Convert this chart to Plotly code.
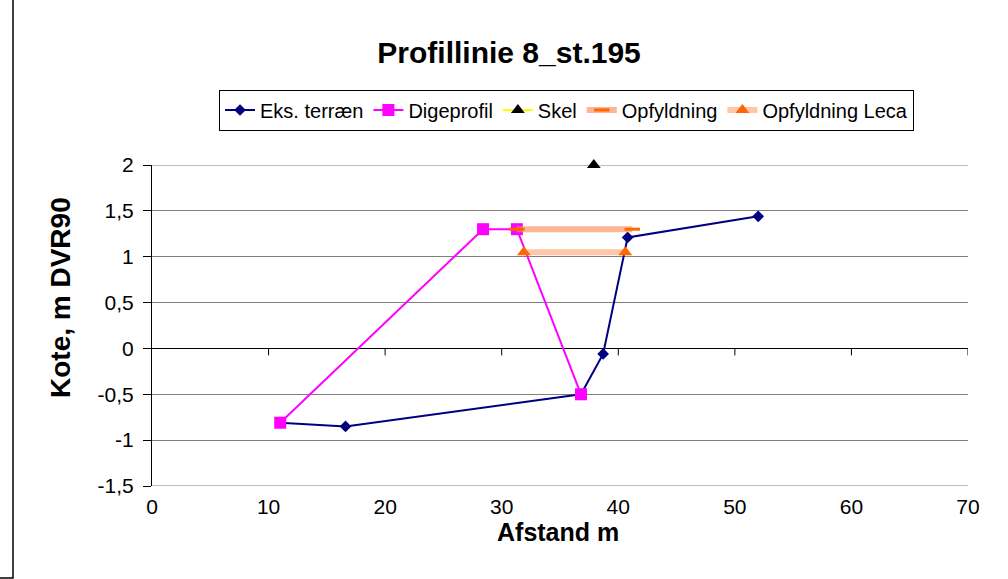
import plotly.graph_objects as go

# Data
terraen_x = [11.0, 16.6, 36.8, 38.7, 40.8, 52.0]
terraen_y = [-0.81, -0.85, -0.5, -0.06, 1.21, 1.44]

dige_x = [11.0, 28.4, 31.3, 36.8]
dige_y = [-0.81, 1.3, 1.3, -0.5]

skel_x = [37.9]
skel_y = [2.0]

opf_x = [31.3, 41.2]
opf_y = [1.3, 1.3]

leca_x = [31.9, 40.6]
leca_y = [1.05, 1.05]

x_ticks = [0, 10, 20, 30, 40, 50, 60, 70]
y_ticks = [-1.5, -1, -0.5, 0, 0.5, 1, 1.5, 2]
y_ticktext = [("%g" % v).replace(".", ",") for v in y_ticks]

FONT = "Liberation Sans, Arial, sans-serif"

fig = go.Figure()

fig.add_trace(go.Scatter(
    x=terraen_x, y=terraen_y, mode="lines+markers", name="Eks. terræn",
    line=dict(color="#000080", width=2),
    marker=dict(symbol="diamond", size=9, color="#000080"),
))
fig.add_trace(go.Scatter(
    x=dige_x, y=dige_y, mode="lines+markers", name="Digeprofil",
    line=dict(color="#FF00FF", width=2),
    marker=dict(symbol="square", size=12, color="#FF00FF"),
))
fig.add_trace(go.Scatter(
    x=skel_x, y=skel_y, mode="lines+markers", name="Skel",
    line=dict(color="#FFFF00", width=2),
    marker=dict(symbol="triangle-up", size=12, color="#000000"),
    cliponaxis=False,
))
fig.add_trace(go.Scatter(
    x=opf_x, y=opf_y, mode="lines+markers", name="Opfyldning",
    line=dict(color="rgba(255,150,100,0.7)", width=6),
    marker=dict(symbol="line-ew", size=11, line=dict(color="#FF6600", width=3), color="#FF6600"),
))
fig.add_trace(go.Scatter(
    x=leca_x, y=leca_y, mode="lines+markers", name="Opfyldning Leca",
    line=dict(color="rgba(255,175,130,0.7)", width=6),
    marker=dict(symbol="triangle-up", size=12, color="#FF6600"),
))

shapes = []
# tick marks on the x-axis crossing at y=0
for t in x_ticks[1:]:
    shapes.append(dict(type="line", xref="x", yref="y", x0=t, x1=t,
                       ysizemode="pixel", yanchor=0, y0=0, y1=-7,
                       line=dict(color="black", width=1)))
# gridlines at the edges of the value range
for v in (y_ticks[0], y_ticks[-1]):
    shapes.append(dict(type="line", xref="paper", yref="y", x0=0, x1=1, y0=v, y1=v,
                       line=dict(color="#808080", width=1), layer="below"))
# edge of neighbouring frame on the left
shapes.append(dict(type="rect", xref="paper", yref="paper",
                   x0=(-20 - 152) / 816, x1=(13 - 152) / 816,
                   y0=(486 - 578) / 321, y1=(486 + 20) / 321,
                   line=dict(color="black", width=1.5), fillcolor="rgba(0,0,0,0)", layer="below"))

fig.update_layout(
    width=1008, height=579,
    margin=dict(l=152, r=40, t=165, b=93),
    paper_bgcolor="white", plot_bgcolor="white",
    font=dict(family=FONT, size=21, color="black"),
    title=dict(text="<b>Profillinie 8_st.195</b>", x=0.505, xanchor="center",
               y=1 - 52 / 579, yanchor="middle", font=dict(size=30, family=FONT)),
    legend=dict(orientation="h", x=0.508, xanchor="center", y=1 - 110 / 579, yanchor="middle",
                yref="container", bordercolor="black", borderwidth=1,
                font=dict(size=20, family=FONT), traceorder="normal"),
    xaxis=dict(range=[0, 70], tickvals=x_ticks, showgrid=False, zeroline=False,
               showline=False, ticks="", tickfont=dict(size=21), ticklabelstandoff=6),
    yaxis=dict(range=[-1.5, 2], tickvals=y_ticks, ticktext=y_ticktext,
               showgrid=True, gridcolor="#808080",
               gridwidth=1, zeroline=True, zerolinecolor="black", zerolinewidth=1,
               showline=True, linecolor="black", linewidth=1, ticks="outside",
               ticklen=8, tickcolor="black", tickfont=dict(size=21), ticklabelstandoff=5),
    annotations=[
        dict(text="<b>Afstand m</b>", xref="paper", yref="paper",
             x=(558 - 152) / 816, y=(486 - 532) / 321, xanchor="center", yanchor="middle",
             showarrow=False, font=dict(size=25, family=FONT)),
        dict(text="<b>Kote, m DVR90</b>", xref="paper", yref="paper", textangle=-90,
             x=(60 - 152) / 816, y=(486 - 298) / 321, xanchor="center", yanchor="middle",
             showarrow=False, font=dict(size=28, family=FONT)),
    ],
    shapes=shapes,
    showlegend=True,
)

fig.write_html("out.html", config={"displayModeBar": False},
               post_script="document.body.style.margin='0';document.body.style.padding='0';")
